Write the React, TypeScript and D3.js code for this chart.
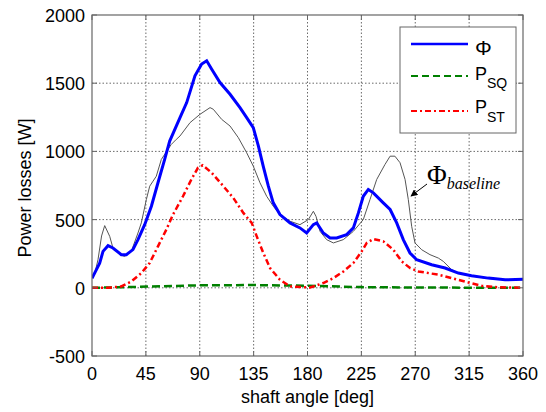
import React from "react";
import * as d3 from "d3";

const xTicks = [0, 45, 90, 135, 180, 225, 270, 315, 360];
const yTicks = [-500, 0, 500, 1000, 1500, 2000];

// Φ (blue)
const phiAngle = [0, 2.2, 6.4, 9.2, 13.4, 17.5, 24.5, 28.7, 34.2, 38.4, 44, 49.6, 55.1, 60.7, 64.9, 73.5, 79.1, 86, 91.6, 95.8, 100, 106.9, 115.3, 123.6, 129.2, 134.7, 139, 143, 147.3, 151.4, 157, 165.4, 173.7, 179.3, 184.9, 187.7, 193.2, 198.8, 204.4, 212.7, 218.3, 222.5, 226.6, 230.8, 235, 243.3, 249, 254.5, 260, 265.6, 271.2, 283.7, 294.9, 306, 317, 331, 345, 360];
const phiValue = [70, 108, 180, 267, 309, 292, 243, 243, 280, 353, 463, 598, 770, 941, 1076, 1248, 1358, 1554, 1640, 1664, 1603, 1505, 1419, 1321, 1248, 1174, 1039, 892, 745, 623, 537, 476, 439, 402, 463, 476, 402, 365, 365, 390, 439, 549, 671, 721, 696, 623, 574, 476, 353, 255, 206, 169, 145, 108, 88, 71, 59, 62];

// Φ baseline (gray)
const baseAngle = [0, 2.2, 5, 8, 10.6, 14.8, 17.5, 23.1, 27.3, 32.8, 38.4, 41.2, 45.4, 48.2, 51, 53.7, 57.9, 66.2, 70.4, 73.5, 81.9, 90.2, 98.6, 101.3, 108.3, 115.3, 122.2, 129.2, 134.7, 140.3, 145.9, 151.4, 157, 165.4, 173.7, 180.7, 184.9, 187.1, 190.5, 196, 201.6, 209.9, 218.3, 226.6, 232.2, 237.8, 244.7, 249, 253, 257.3, 261.5, 264.2, 267, 269.8, 275.4, 282.3, 289.3, 293.4, 300.5, 306, 317, 331, 345, 360];
const baseValue = [70, 100, 206, 380, 456, 377, 292, 243, 230, 267, 402, 476, 647, 745, 782, 818, 941, 1051, 1088, 1113, 1211, 1272, 1321, 1309, 1235, 1186, 1101, 990, 892, 770, 671, 598, 537, 488, 463, 500, 561, 524, 414, 353, 329, 353, 414, 500, 647, 794, 904, 965, 965, 917, 794, 647, 451, 329, 279, 243, 218, 194, 132, 106, 86, 68, 58, 60];

// P_SQ (green)
const sqAngle = [0, 30, 60, 90, 135, 180, 225, 270, 360];
const sqValue = [0, 5, 12, 18, 20, 15, 5, 2, 0];

// P_ST (red)
const stAngle = [0, 13.4, 24.5, 32.8, 41.2, 48.2, 55.1, 62.1, 67.7, 76, 83, 88.5, 92.5, 100, 109.7, 118, 126.4, 133.4, 137.6, 143.1, 148.7, 157, 165.4, 176.5, 182.1, 189, 193.2, 201.6, 210, 218.3, 225.3, 229.5, 235, 243.3, 251.7, 258.7, 265.6, 272.6, 289.3, 300.5, 314.3, 325.5, 336.6, 360];
const stValue = [0, 0, 10, 46, 108, 182, 304, 427, 537, 671, 794, 880, 898, 843, 745, 659, 549, 476, 377, 255, 145, 59, 10, 5, 2, 22, 35, 71, 120, 182, 267, 329, 358, 341, 279, 194, 145, 120, 96, 71, 39, 15, 5, 0];

const W = 546, H = 412;
const L = 92, R = 523, T = 15, B = 356;

export default function App() {
  const x = d3.scaleLinear().domain([0, 360]).range([L, R]);
  const y = d3.scaleLinear().domain([-500, 2000]).range([B, T]);
  const line = (a: number[], v: number[]) =>
    d3.line<number>().x((_, i) => x(a[i])).y((d) => y(d))(v) as string;
  const font = "Liberation Sans, Arial, sans-serif";
  const axisColor = "#666";
  return (
    <svg width={W} height={H} style={{ position: "absolute", left: 0, top: 0 }}>
      <defs>
        <marker id="arr" viewBox="0 0 10 10" refX="9" refY="5" markerWidth="7" markerHeight="7" orient="auto">
          <path d="M0,0 L10,5 L0,10 z" fill="#000" />
        </marker>
        <clipPath id="clip"><rect x={L} y={T} width={R - L} height={B - T} /></clipPath>
      </defs>
      <rect x={0} y={0} width={W} height={H} fill="#fff" />
      {/* grid */}
      {xTicks.slice(1, -1).map((t) => (
        <line key={"gx" + t} x1={x(t)} x2={x(t)} y1={T} y2={B} stroke="#444" strokeWidth={0.8} strokeDasharray="1.5,2" />
      ))}
      {yTicks.slice(1, -1).map((t) => (
        <line key={"gy" + t} x1={L} x2={R} y1={y(t)} y2={y(t)} stroke="#444" strokeWidth={0.8} strokeDasharray="1.5,2" />
      ))}
      {/* curves */}
      <g clipPath="url(#clip)" fill="none">
        <path d={line(baseAngle, baseValue)} stroke="#555" strokeWidth={1} />
        <path d={line(sqAngle, sqValue)} stroke="#008000" strokeWidth={2.5} strokeDasharray="8,4" />
        <path d={line(stAngle, stValue)} stroke="#ff0000" strokeWidth={2.5} strokeDasharray="6,3,2,3" />
        <path d={line(phiAngle, phiValue)} stroke="#0000ff" strokeWidth={3} />
      </g>
      {/* axes box */}
      <rect x={L} y={T} width={R - L} height={B - T} fill="none" stroke={axisColor} strokeWidth={1.2} />
      {xTicks.map((t) => (
        <g key={"tx" + t}>
          <line x1={x(t)} x2={x(t)} y1={B} y2={B - 5} stroke={axisColor} />
          <line x1={x(t)} x2={x(t)} y1={T} y2={T + 5} stroke={axisColor} />
          <text x={x(t)} y={B + 24} textAnchor="middle" fontFamily={font} fontSize={18} fill="#000">{t}</text>
        </g>
      ))}
      {yTicks.map((t) => (
        <g key={"ty" + t}>
          <line x1={L} x2={L + 5} y1={y(t)} y2={y(t)} stroke={axisColor} />
          <line x1={R} x2={R - 5} y1={y(t)} y2={y(t)} stroke={axisColor} />
          <text x={L - 7} y={y(t) + 7} textAnchor="end" fontFamily={font} fontSize={18} fill="#000">{t}</text>
        </g>
      ))}
      <text x={(L + R) / 2} y={403} textAnchor="middle" fontFamily={font} fontSize={18} fill="#000">shaft angle [deg]</text>
      <text transform={`translate(31,188) rotate(-90)`} textAnchor="middle" fontFamily={font} fontSize={18} fill="#000">Power losses [W]</text>
      {/* legend */}
      <rect x={400} y={27} width={116} height={106} fill="#fff" stroke={axisColor} strokeWidth={1} />
      <line x1={411} x2={468} y1={44} y2={44} stroke="#0000ff" strokeWidth={2.5} />
      <line x1={411} x2={468} y1={76} y2={76} stroke="#008000" strokeWidth={2} strokeDasharray="7,4" />
      <line x1={411} x2={468} y1={111} y2={111} stroke="#ff0000" strokeWidth={2} strokeDasharray="6,3,2,3" />
      <text x={475} y={55} fontFamily={font} fontSize={21} fill="#000">Φ</text>
      <text x={475} y={80} fontFamily={font} fontSize={18} fill="#000">P<tspan fontSize={14} dy={8}>SQ</tspan></text>
      <text x={475} y={113} fontFamily={font} fontSize={18} fill="#000">P<tspan fontSize={14} dy={9}>ST</tspan></text>
      {/* annotation */}
      <text x={427} y={184} fontFamily="Liberation Serif, Times New Roman, serif" fontSize={27} fill="#000">Φ<tspan fontSize={16} fontStyle="italic" dy={5}>baseline</tspan></text>
      <line x1={427} y1={184} x2={411} y2={196} stroke="#000" strokeWidth={1} markerEnd="url(#arr)" />
    </svg>
  );
}
